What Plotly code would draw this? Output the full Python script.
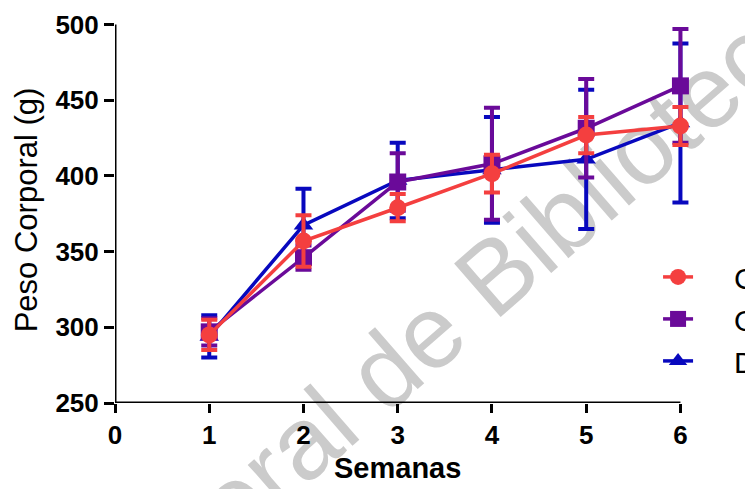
import plotly.graph_objects as go

# Semanas de seguimiento
semanas = [1, 2, 3, 4, 5, 6]

# Peso corporal medio (g) y error estándar por grupo
control_media = [295, 357, 379, 401.5, 427, 433]
control_err = [10, 17, 9, 12.5, 12, 12.5]

obeso_media = [297, 346, 396, 408, 431.5, 459.5]
obeso_err = [9, 8, 19, 37, 32.5, 37.5]

diab_media = [294, 367.5, 397, 404, 411, 435]
diab_err = [14, 24, 25, 35, 46, 52.5]

nombres = ["Control", "Obeso", "Diabético"]
colores = ["#F43F3F", "#6A0A99", "#0808BE"]
simbolos = ["circle", "square", "triangle-up"]

ticks_x = [0, 1, 2, 3, 4, 5, 6]
ticks_y = [250, 300, 350, 400, 450, 500]

# espacio fijo entre el símbolo de la leyenda y su texto
SEP = "\u2002\u2002\u2009"

fig = go.Figure()

series = [
    (diab_media, diab_err, 2),
    (obeso_media, obeso_err, 1),
    (control_media, control_err, 0),
]
for media, err, i in series:
    fig.add_trace(go.Scatter(
        x=semanas, y=media, name=SEP + nombres[i],
        mode="lines+markers",
        line=dict(color=colores[i], width=3.5),
        marker=dict(symbol=simbolos[i], size=17, color=colores[i]),
        error_y=dict(type="data", array=err, visible=True,
                     color=colores[i], thickness=4, width=8),
        cliponaxis=False,
    ))

# Marca de agua
fig.add_shape(
    type="rect", xref="paper", yref="paper",
    x0=0.254, x1=0.294, y0=-0.151, y1=-0.101,
    line=dict(width=0), fillcolor="rgba(0,0,0,0)", layer="below",
    label=dict(text="Dirección General de Bibliotecas", textangle=-41,
               font=dict(family="Liberation Sans, Arial", size=103, color="#CBCBCB"),
               textposition="middle center"),
)

# Ejes dibujados hasta los valores extremos
fig.add_shape(type="line", xref="x", yref="y", x0=0, x1=6, y0=250, y1=250,
              line=dict(color="black", width=3), layer="above")
fig.add_shape(type="line", xref="x", yref="y", x0=0, x1=0, y0=250, y1=500,
              line=dict(color="black", width=3), layer="above")

# Título del eje x centrado sobre el tramo 0–6
fig.add_annotation(
    text="Semanas", x=3, xref="x", y=-0.168, yref="paper",
    xanchor="center", yanchor="middle", showarrow=False,
    font=dict(family="Liberation Sans, Arial", size=29, color="black", weight="bold"),
)

fuente_ticks = dict(family="Liberation Sans, Arial", size=26, color="black", weight="bold")

fig.update_layout(
    width=745, height=489,
    margin=dict(l=115, r=41, t=17, b=86, autoexpand=False),
    paper_bgcolor="white", plot_bgcolor="white",
    showlegend=True,
    legend=dict(
        x=0.922, xanchor="left", y=0.394, yanchor="top",
        traceorder="reversed",
        font=dict(family="Liberation Sans, Arial", size=30, color="black"),
        bgcolor="rgba(0,0,0,0)",
    ),
    xaxis=dict(
        range=[0, 6.25], tickvals=ticks_x, ticktext=[str(t) for t in ticks_x],
        ticks="outside", ticklen=9, tickwidth=3, tickcolor="black",
        showline=False, showgrid=False, zeroline=False,
        tickfont=fuente_ticks,
    ),
    yaxis=dict(
        range=[250, 505], tickvals=ticks_y, ticktext=[str(t) for t in ticks_y],
        ticks="outside", ticklen=10, tickwidth=3, tickcolor="black",
        showline=False, showgrid=False, zeroline=False,
        tickfont=fuente_ticks,
        title=dict(text="Peso Corporal (g)", standoff=8,
                   font=dict(family="Liberation Sans, Arial", size=31, color="black")),
    ),
)

fig.write_html("out.html")
